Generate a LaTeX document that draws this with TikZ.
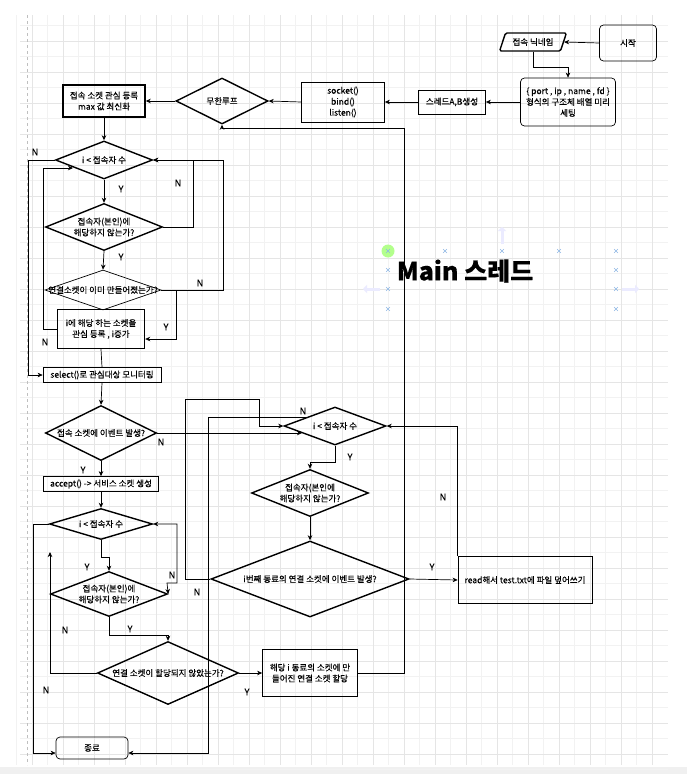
\documentclass[tikz,border=0pt]{standalone}
\usepackage{fontspec}
\setmainfont{Noto Sans CJK KR}[FakeBold=0.25]
\usetikzlibrary{shapes.geometric,arrows.meta}
\tikzset{>={Stealth[length=5pt,width=4.5pt,inset=1.5pt]}}
\tikzset{
  every node/.style={font=\fontsize{8.5}{11}\selectfont},
  proc/.style={draw, line width=0.7pt, align=center, inner sep=1pt},
  procthick/.style={proc, line width=1.4pt},
  term/.style={proc, rounded corners=4pt},
  decision/.style={draw, diamond, line width=1.4pt, inner sep=0pt},
  flow/.style={->, line width=0.7pt},
  yn/.style={font=\fontsize{9}{10}\selectfont},
  gridminor/.style={draw=black!5, line width=0.4pt},
  gridmajor/.style={draw=black!10, line width=0.5pt},
  uimark/.style={draw=cyan!60!blue!45, line width=0.6pt}
}

\begin{document}
\begin{tikzpicture}[x=1pt,y=-1pt]
  \useasboundingbox (0,0) rectangle (687,774);
  \fill[white] (0,0) rectangle (687,774);
  \fill[black!6] (0,767) rectangle (687,774);

  % grid
  \foreach \i in {0,...,41} \draw[gridminor] ({16.5+15.5*\i},15) -- ({16.5+15.5*\i},765);
  \foreach \i in {0,...,48} \draw[gridminor] (20,{25.5+15.5*\i}) -- (668,{25.5+15.5*\i});
  \foreach \i in {0,...,20} \draw[gridmajor] ({32+31*\i},15) -- ({32+31*\i},765);
  \foreach \i in {1,...,24} \draw[gridmajor] (20,{10+31*\i}) -- (668,{10+31*\i});
  \draw[black!25, dashed] (27,15) -- (27,765);

  % top row
  \node[term, minimum width=57pt, minimum height=36pt] (start) at (628,43) {시작};
  \node[draw, trapezium, trapezium left angle=60, trapezium right angle=120, trapezium stretches,
        line width=1.4pt, rounded corners=1.5pt, inner sep=0pt,
        minimum width=67pt, minimum height=18pt] (nick) at (533,42) {접속 닉네임};
  \node[term, minimum width=95pt, minimum height=48pt] (struct) at (568,102) {\{ port , ip , name , fd \}\\형식의 구조체 배열 미리\\세팅};
  \node[proc, minimum width=67pt, minimum height=24pt] (thread) at (452,102) {스레드A,B생성};
  \node[proc, minimum width=83pt, minimum height=40pt] (sock) at (343,102) {socket()\\bind()\\listen()};
  \node[decision, minimum width=92pt, minimum height=46pt, label=center:{무한루프}] (loop) at (222,101) {};
  \node[procthick, minimum width=82pt, minimum height=32pt] (reg) at (104,101) {접속 소켓 관심 등록\\max 값 최신화};

  % first loop
  \node[decision, minimum width=97pt, minimum height=38pt, label=center:{i < 접속자 수}] (d1) at (104,160) {};
  \node[decision, minimum width=117pt, minimum height=47pt, label={[align=center]center:{접속자(본인)에\\해당하지 않는가?}}] (d2) at (104,227) {};
  \node[decision, line width=0.7pt, minimum width=116pt, minimum height=40pt, label=center:{연결소켓이 이미 만들어졌는가?}] (d3) at (103,290) {};
  \node[procthick, minimum width=87pt, minimum height=39pt] (setreg) at (101,329) {i에 해당 하는 소켓을\\관심 등록 , i증가};
  \node[proc, minimum width=118pt, minimum height=15pt, inner sep=0pt] (sel) at (102,375) {select()로 관심대상 모니터링};

  % accept branch
  \node[decision, minimum width=111pt, minimum height=55pt, label=center:{접속 소켓에 이벤트 발생?}] (d4) at (101,433) {};
  \node[proc, minimum width=115pt, minimum height=15pt, inner sep=0pt] (accept) at (101,484) {accept() -> 서비스 소켓 생성};
  \node[decision, minimum width=103pt, minimum height=31pt, label=center:{i < 접속자 수}] (d6) at (101,524) {};
  \node[decision, minimum width=117pt, minimum height=45pt, label={[align=center]center:{접속자(본인)에\\해당하지 않는가?}}] (d7) at (109,594) {};
  \node[decision, minimum width=141pt, minimum height=63pt, label=center:{연결 소켓이 할당되지 않았는가?}] (d8) at (168,673) {};
  \node[proc, minimum width=95pt, minimum height=47pt] (alloc) at (310,673) {해당 i 동료의 소켓에 만\\들어진 연결 소켓 할당};
  \node[term, minimum width=72pt, minimum height=22pt] (end) at (92,748) {종료};

  % peer branch
  \node[decision, minimum width=102pt, minimum height=38pt, label=center:{i < 접속자 수}] (d5) at (335,426) {};
  \node[decision, minimum width=117pt, minimum height=47pt, label={[align=center]center:{접속자(본인에\\해당하지 않는가?}}] (d10) at (310,493) {};
  \node[decision, minimum width=198pt, minimum height=76pt, label=center:{i번째 동료의 연결 소켓에 이벤트 발생?}] (d9) at (310,579) {};
  \node[proc, minimum width=134pt, minimum height=47pt] (read) at (525,580) {read해서 test.txt에 파일 덮어쓰기};

  \node[font=\fontsize{25}{28}\selectfont\bfseries] (title) at (465,271) {Main 스레드};

  % hover marks round the title
  \fill[green!55!lime!45] (388,251) circle (6.5pt);
  \foreach \mx/\my in {388/251,445/251,502/251,559/251,616/251,388/270,616/270,388/289,616/289,388/309,616/309}
    \draw[uimark] (\mx-1.8,\my-1.8) -- (\mx+1.8,\my+1.8) (\mx-1.8,\my+1.8) -- (\mx+1.8,\my-1.8);
  \draw[-{Triangle[length=4pt,width=8pt]}, line width=3pt, blue!8] (502,244) -- (502,227);
  \draw[-{Triangle[length=4pt,width=8pt]}, line width=3pt, blue!8] (380,289) -- (363,289);
  \draw[-{Triangle[length=4pt,width=8pt]}, line width=3pt, blue!8] (622,289) -- (639,289);

  \coordinate (d1in) at (73,168);
  \coordinate (d5sw) at (302,433);
  \coordinate (d5nw) at (308,417);

  % connectors
  \draw[flow] (start.west) -- (nick.east);
  \draw[flow] (nick.south) -- ++(0,16) -| (struct.north);
  \draw[flow] (struct.west) -- (thread.east);
  \draw[flow] (thread.west) -- (sock.east);
  \draw[flow] (sock.west) -- (loop.east);
  \draw[flow] (loop.west) -- (reg.east);
  \draw[flow] (reg.south) -- (d1.north);
  \draw[flow] (d1.south) -- (d2.north);
  \draw[flow] (d2.south) -- (d3.north);
  \draw[flow] (d2.east) -- ++(30,0) |- (d1.east);
  \draw[flow] (d3.east) -- ++(62,0) |- (d1.east);
  \draw[flow] (d3.east) -- (176,290) |- (setreg.east |- 0,339);
  \draw[flow] (setreg.west) -- (43,329) |- (d1in);
  \draw[flow] (d1.west) -- (28,160) |- (sel.west);
  \draw[line width=0.7pt] (setreg.south) -- (sel.north);
  \draw[flow] (sel.south) -- (d4.north);
  \draw[flow] (d4.south) -- (accept.north);
  \draw[flow] (d4.east) -- (d5sw);
  \draw[flow] (accept.south) -- (d6.north);
  \draw[flow] (d6.west) -- (33,524) |- (end.west |- 0,753);
  \draw[flow] (d6.south) -- ++(0,17) -| (d7.north);
  \draw[<->, line width=0.7pt] (d6.east) -- (177,524) -- (177,583) -- (167,583) -- (d7.east);
  \draw[flow] (d7.south) -- ++(0,18) -| (d8.north);
  \draw[flow] (d8.west) -| (50,552);
  \draw[flow] (d8.east) -- (alloc.west);
  \draw[flow] (alloc.east) -- (404,673) |- (222,128) -- (loop.south);
  \draw[flow] (d5.south) -- ++(0,17) -| (d10.north);
  \draw[flow] (d10.south) -- (d9.north);
  \draw[flow] (d9.east) -- (read.west);
  \draw[flow] (read.north west) |- (d5.east);
  \draw[flow] (d9.west) -- (185,579) |- (259,399) |- (d5.west);
  \draw[flow] (d5nw) -- (208,417) |- (end.east |- 0,753);

  % Y / N labels
  \node[yn] (n1) at (35,152) {N};
  \node[yn] (y1) at (121,189) {Y};
  \node[yn] (n2) at (178,183) {N};
  \node[yn] (y2) at (121,257) {Y};
  \node[yn] (n3) at (200,283) {N};
  \node[yn] (y3) at (166,327) {Y};
  \node[yn] (n4) at (45,342) {N};
  \node[yn] (n5) at (161,442) {N};
  \node[yn] (y4) at (83,470) {Y};
  \node[yn] (n6) at (303,411) {N};
  \node[yn] (y5) at (350,457) {Y};
  \node[yn] (n7) at (443,497) {N};
  \node[yn] (y6) at (432,567) {Y};
  \node[yn] (n8) at (197,592) {N};
  \node[yn] (n9) at (172,575) {N};
  \node[yn] (y7) at (87,567) {Y};
  \node[yn] (n10) at (65,630) {N};
  \node[yn] (y8) at (130,629) {Y};
  \node[yn] (n11) at (46,690) {N};
  \node[yn] (y9) at (247,692) {Y};
\end{tikzpicture}
\end{document}
